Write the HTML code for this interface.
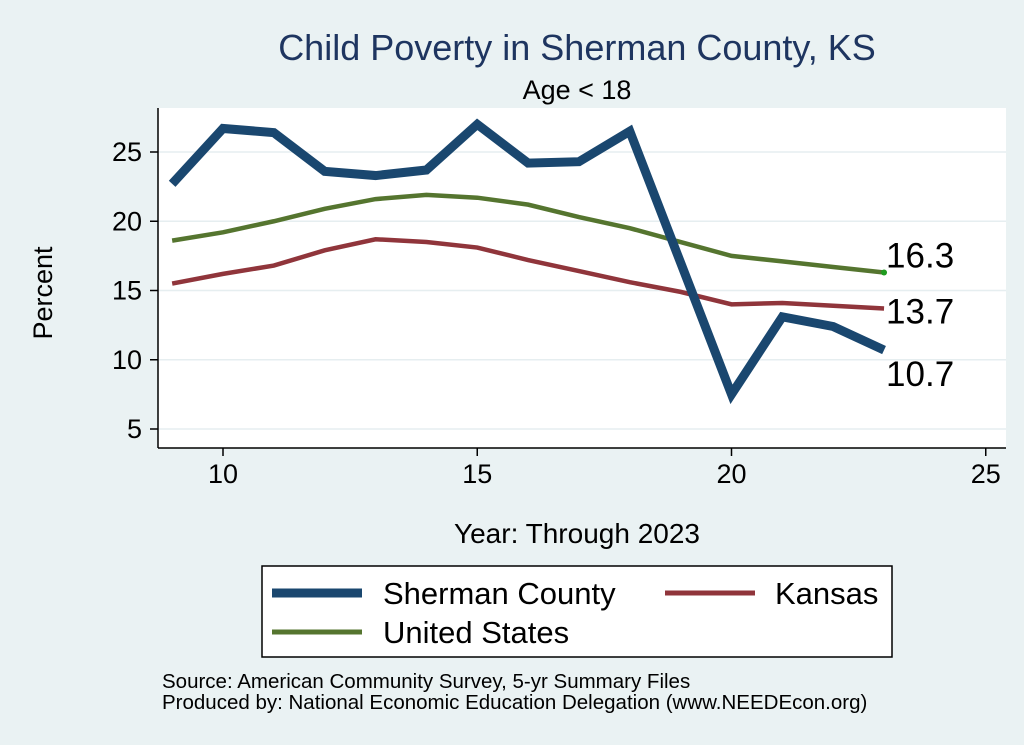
<!DOCTYPE html>
<html><head><meta charset="utf-8"><style>
body{margin:0;background:#eaf2f3;}
svg{display:block;font-family:"Liberation Sans",Arial,sans-serif;}
</style></head><body>
<svg id="c" width="1024" height="745" viewBox="0 0 1024 745">
<rect x="0" y="0" width="1024" height="745" fill="#eaf2f3"/>
<rect x="158" y="108" width="848" height="340" fill="#fff"/>
<text x="577" y="60" text-anchor="middle" font-size="36" fill="#1e3560">Child Poverty in Sherman County, KS</text>
<text x="577" y="99" text-anchor="middle" font-size="27" fill="#000">Age &lt; 18</text>
<text x="52" y="293" text-anchor="middle" font-size="27" transform="rotate(-90 52 293)">Percent</text>
<text x="577" y="543" text-anchor="middle" font-size="28">Year: Through 2023</text>
<g id="grid"></g><g id="axes"></g><g id="series"></g>
<g>
<rect x="262" y="566" width="630" height="91" fill="#fff" stroke="#000" stroke-width="1.5"/>
<g><line x1="272" y1="593" x2="362" y2="593" stroke="#1a476f" stroke-width="9"/><text x="383" y="604" font-size="31">Sherman County</text></g>
<g><line x1="665" y1="593" x2="755" y2="593" stroke="#90353b" stroke-width="5"/><text x="775" y="604" font-size="31">Kansas</text></g>
<g><line x1="272" y1="632" x2="362" y2="632" stroke="#55752f" stroke-width="5"/><text x="383" y="643" font-size="31">United States</text></g>
</g>
<text x="162" y="688" font-size="20.5">Source: American Community Survey, 5-yr Summary Files</text>
<text x="162" y="709" font-size="20.5">Produced by: National Economic Education Delegation (www.NEEDEcon.org)</text>
</svg>
<script>
const years=[9,10,11,12,13,14,15,16,17,18,19,20,21,22,23];
const sherman=[22.7,26.7,26.4,23.6,23.3,23.7,27.0,24.2,24.3,26.5,17.0,7.5,13.1,12.4,10.7];
const kansas=[15.5,16.2,16.8,17.9,18.7,18.5,18.1,17.2,16.4,15.6,14.9,14.0,14.1,13.9,13.7];
const us=[18.6,19.2,20.0,20.9,21.6,21.9,21.7,21.2,20.3,19.5,18.5,17.5,17.1,16.7,16.3];
const xTicks=[10,15,20,25];
const yTicks=[5,10,15,20,25];
const NS="http://www.w3.org/2000/svg";
const X=v=>223+(v-10)*50.85;
const Y=v=>429-(v-5)*13.85;
function mk(t,a,p){const e=document.createElementNS(NS,t);for(const k in a)e.setAttribute(k,a[k]);p.appendChild(e);return e;}
const grid=document.getElementById('grid'),axes=document.getElementById('axes'),ser=document.getElementById('series');
yTicks.forEach(t=>{
 const g=mk('line',{x1:158,x2:1006,y1:Y(t),y2:Y(t),stroke:'#e6eef0','stroke-width':1.5},grid);
 
 
 const tk=mk('line',{x1:150,x2:158,y1:Y(t),y2:Y(t),stroke:'#000','stroke-width':1.5},axes);
 
 
 const l=mk('text',{x:142,y:Y(t)+9,'text-anchor':'end','font-size':27},axes);l.textContent=t;
 
 
});
xTicks.forEach(t=>{
 const tk=mk('line',{x1:X(t),x2:X(t),y1:448,y2:456,stroke:'#000','stroke-width':1.5},axes);
 
 
 const l=mk('text',{x:X(t),y:483,'text-anchor':'middle','font-size':27},axes);l.textContent=t;
 
 
});
const ya=mk('line',{x1:158,x2:158,y1:108,y2:448,stroke:'#000','stroke-width':1.5},axes);


const xa=mk('line',{x1:158,x2:1006,y1:448,y2:448,stroke:'#000','stroke-width':1.5},axes);


function line(vals,color,w,name){
 const p=mk('polyline',{points:vals.map((v,i)=>X(years[i])+','+Y(v)).join(' '),fill:'none',stroke:color,'stroke-width':w,'stroke-linejoin':'miter'},ser);
 
 
}
line(us,'#55752f',4.5,'us-line');
line(kansas,'#90353b',4.5,'kansas-line');
line(sherman,'#1a476f',9,'sherman-line');
const last=years.length-1;
const d=mk('circle',{cx:X(years[last]),cy:Y(us[last]),r:3,fill:'#1f9b1f'},ser);


[[us,-5,'us-end-label'],[kansas,15,'kansas-end-label'],[sherman,36,'sherman-end-label']].forEach(([s,dy,n])=>{
 const t=mk('text',{x:X(years[last])+2,y:Y(s[last])+dy,'font-size':35},ser);t.textContent=s[last].toFixed(1);
 
 
});
</script>
</body></html>
